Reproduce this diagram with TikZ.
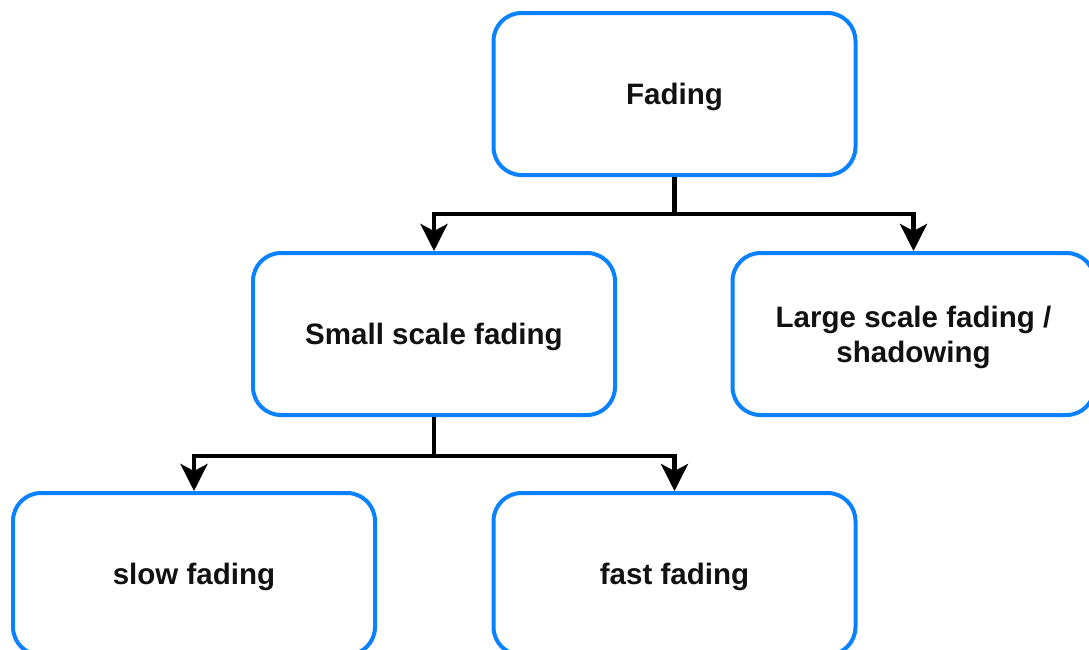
\documentclass[tikz,border=0pt]{standalone}
\usepackage{fontspec}
\setmainfont{Liberation Sans}
\usetikzlibrary{arrows.meta, positioning, calc}
\definecolor{boxblue}{HTML}{0A82FF}
\definecolor{inkblack}{HTML}{111111}

\begin{document}
\begin{tikzpicture}[
  every node/.style={text=inkblack, font=\fontsize{16.8}{19.9}\selectfont\bfseries},
  fadebox/.style={rounded corners=0.56cm, line width=0.08cm, draw=boxblue,
    fill=white, minimum height=3.24cm, minimum width=7.24cm,
    align=center, inner sep=6pt, text depth=0pt},
  branch/.style={line width=0.09cm, draw=black,
    -{Stealth[length=0.54cm, width=0.54cm, inset=0.14cm]}},
]

% Page frame
\useasboundingbox (0,0) rectangle (21.78,-12.98);

% Root
\node[fadebox] (fading) at (13.49,-1.88) {Fading};

% Second level
\node[fadebox] (small) at (8.68,-6.68) {Small scale fading};
\node[fadebox] (large) at (18.27,-6.68) {Large scale fading /\\shadowing};

% Third level, cut by the bottom edge
\node[fadebox] (slow) at (3.88,-11.48) {slow fading};
\node[fadebox] (fast) at (13.49,-11.48) {fast fading};

% Branches from Fading
\draw[branch] (fading.south) -- ++(0,-0.74) -| (small.north);
\draw[branch] (fading.south) -- ++(0,-0.74) -| (large.north);

% Branches from Small scale fading
\draw[branch] (small.south) -- ++(0,-0.78) -| (slow.north);
\draw[branch] (small.south) -- ++(0,-0.78) -| (fast.north);

\end{tikzpicture}
\end{document}
